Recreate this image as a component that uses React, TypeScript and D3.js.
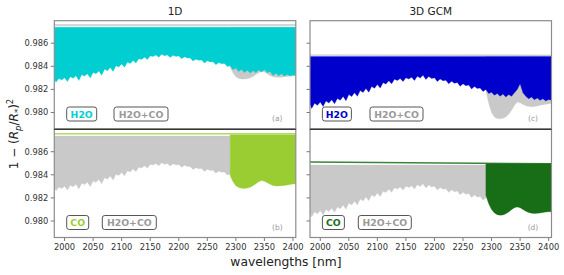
import React from "react";
import * as d3 from "d3";

// wavelength grids [nm]
const wlForest = [
  1982, 1985, 1990, 1995, 2000, 2005, 2010, 2015, 2020, 2025, 2030, 2035, 2040,
  2045, 2050, 2055, 2060, 2065, 2070, 2075, 2080, 2085, 2090, 2095, 2100, 2105,
  2110, 2115, 2120, 2125, 2130, 2135, 2140, 2145, 2150, 2155, 2160, 2165, 2170,
  2175, 2180, 2185, 2190, 2195, 2200, 2205, 2210, 2215, 2220, 2225, 2230, 2235,
  2240, 2245, 2250, 2255, 2260, 2265, 2270, 2275, 2280, 2285, 2290,
];
const wlBand = [
  2290, 2295, 2300, 2305, 2310, 2315, 2320, 2325, 2330, 2335, 2340, 2345, 2350,
  2355, 2360, 2365, 2370, 2375, 2380, 2385, 2390, 2395, 2400, 2405,
];
const wlEdges = [1982, 2405];

// lower envelope of the H2O line forest (1D model)
const forest1D = [
  0.9829, 0.98262, 0.98295, 0.98282, 0.983, 0.98268, 0.9831, 0.98296, 0.98318,
  0.98278, 0.98326, 0.98315, 0.98336, 0.98298, 0.98346, 0.98335, 0.9836,
  0.98322, 0.98375, 0.98362, 0.9839, 0.98356, 0.98405, 0.98394, 0.9842, 0.98392,
  0.98435, 0.98425, 0.9845, 0.98428, 0.98466, 0.9846, 0.98478, 0.98458,
  0.9849, 0.98485, 0.98497, 0.98478, 0.98505, 0.98492, 0.98498, 0.98476,
  0.98495, 0.98486, 0.9849, 0.98466, 0.98482, 0.98472, 0.98472, 0.98446,
  0.98462, 0.98452, 0.98455, 0.98428, 0.98448, 0.98438, 0.9844, 0.98414,
  0.98432, 0.98422, 0.98425, 0.98398, 0.98405,
];
// lower envelope of the H2O line forest (3D GCM)
const forest3D = [
  0.9807, 0.98035, 0.9808, 0.98062, 0.9809, 0.98052, 0.981, 0.98082, 0.9811,
  0.98075, 0.98122, 0.98106, 0.98138, 0.98102, 0.98155, 0.98138, 0.98172,
  0.9814, 0.9819, 0.98174, 0.98208, 0.98176, 0.98225, 0.9821, 0.98242,
  0.98212, 0.98258, 0.98246, 0.98275, 0.98248, 0.98288, 0.98276, 0.98295,
  0.98268, 0.983, 0.9829, 0.98305, 0.98278, 0.98314, 0.98298, 0.98322, 0.98286,
  0.98312, 0.98294, 0.983, 0.98268, 0.9829, 0.98274, 0.9828, 0.98248, 0.9827,
  0.98254, 0.9826, 0.98228, 0.98248, 0.98232, 0.98238, 0.98204, 0.98225,
  0.98208, 0.98212, 0.98182, 0.982,
];

// CO band region (2290-2405 nm)
const h2oBand1D = [
  0.98405, 0.9837, 0.98385, 0.98355, 0.98372, 0.98345, 0.98365, 0.98342,
  0.98362, 0.98345, 0.98368, 0.9835, 0.98372, 0.98345, 0.98355, 0.9832,
  0.9834, 0.98318, 0.98335, 0.98315, 0.9833, 0.98315, 0.98325, 0.9832,
];
const coBand1D = [
  0.98395, 0.9834, 0.98305, 0.9829, 0.98284, 0.98282, 0.98285, 0.98292,
  0.98305, 0.98322, 0.9834, 0.9835, 0.98345, 0.98332, 0.98318, 0.98308,
  0.98304, 0.98303, 0.98305, 0.98308, 0.98312, 0.98316, 0.9832, 0.98322,
];
const h2ocoBand1D = [
  0.98395, 0.98345, 0.9831, 0.98295, 0.9829, 0.98289, 0.98292, 0.983,
  0.98312, 0.98328, 0.98345, 0.98355, 0.9835, 0.98336, 0.9832, 0.9831,
  0.98306, 0.98305, 0.98306, 0.98309, 0.98312, 0.98315, 0.98318, 0.9832,
];
const h2oBand3D = [
  0.98195, 0.98165, 0.98175, 0.9815, 0.98165, 0.9814, 0.9816, 0.98135,
  0.98155, 0.9814, 0.9817, 0.982, 0.9825, 0.9817, 0.9814, 0.9812, 0.98135,
  0.9811, 0.98125, 0.98105, 0.9812, 0.981, 0.98112, 0.98105,
];
const coBand3D = [
  0.98221, 0.9815, 0.981, 0.9807, 0.98055, 0.9805, 0.98052, 0.98062, 0.98078,
  0.98098, 0.98115, 0.98122, 0.98115, 0.981, 0.98085, 0.98074, 0.98068,
  0.98065, 0.98066, 0.9807, 0.98074, 0.98078, 0.9808, 0.9808,
];
const h2ocoBand3D = [
  0.9819, 0.9808, 0.98, 0.9796, 0.97947, 0.97945, 0.9795, 0.97962, 0.97985,
  0.9802, 0.9806, 0.9809, 0.98085, 0.9807, 0.98058, 0.98052, 0.9805, 0.98052,
  0.98056, 0.98062, 0.98068, 0.98072, 0.98075, 0.98078,
];

// continuum levels
const top1D = [0.98738, 0.98736, 0.98746]; // H2O, H2O+CO, CO band
const line1D = [0.98758, 0.98756]; // gray line (a), CO line (b)
const top3D = [0.98484, 0.98484, 0.98496];
const grayLine3D = [0.98497, 0.98495];
const coLine3D = [0.98511, 0.98495];

const yTicks = [0.98, 0.982, 0.984, 0.986];
const xTicks = [2000, 2050, 2100, 2150, 2200, 2250, 2300, 2350, 2400];
const titles = ["1D", "3D GCM"];

const GRAY = "#c9c9c9";
const CYAN = "#00ced1";
const BLUE = "#0000cd";
const LGREEN = "#9acd32";
const DGREEN = "#176e17";

const W = 564;
const H = 275;
const colX = [54.3, 310];
const rowY = [20.7, 129.2];
const PW = 241.5;
const PH = 108.3;
const FONT = "DejaVu Sans, sans-serif";

const x = d3.scaleLinear().domain([1982, 2405]).range([0, PW]);
const y = d3.scaleLinear().domain([0.97857, 0.98795]).range([PH, 0]);

const areaPath = (wl, lower, top) =>
  d3
    .area<number>()
    .x((_, i) => x(wl[i]))
    .y0(() => y(top))
    .y1((d) => y(d))(lower);

const linePath = (wl, vals) =>
  d3
    .line<number>()
    .x((_, i) => x(wl[i]))
    .y((d) => y(d))(vals);

const join = (a, b) => a.concat(b.slice(1));

const panels = [
  {
    col: 0,
    row: 0,
    letter: "(a)",
    legend: [
      { label: "H2O", color: CYAN, dx: 12.4, w: 30 },
      { label: "H2O+CO", color: "#999", dx: 59.7, w: 54 },
    ],
    layers: [
      { kind: "line", wl: wlEdges, vals: [line1D[0], line1D[0]], color: GRAY, width: 1.5, op: 1 },
      { kind: "area", wl: wlBand, lower: h2ocoBand1D, top: top1D[1], color: GRAY },
      { kind: "area", wl: join(wlForest, wlBand), lower: join(forest1D, h2oBand1D), top: top1D[0], color: CYAN },
    ],
  },
  {
    col: 0,
    row: 1,
    letter: "(b)",
    legend: [
      { label: "CO", color: LGREEN, dx: 12.4, w: 22 },
      { label: "H2O+CO", color: "#999", dx: 48, w: 54 },
    ],
    layers: [
      { kind: "area", wl: wlForest, lower: forest1D, top: top1D[1], color: GRAY },
      { kind: "area", wl: wlBand, lower: coBand1D, top: top1D[2], color: LGREEN },
      { kind: "line", wl: wlEdges, vals: [line1D[1], line1D[1]], color: LGREEN, width: 1.6, op: 0.75 },
    ],
  },
  {
    col: 1,
    row: 0,
    letter: "(c)",
    legend: [
      { label: "H2O", color: BLUE, dx: 12.4, w: 29 },
      { label: "H2O+CO", color: "#999", dx: 60, w: 53 },
    ],
    layers: [
      { kind: "line", wl: wlEdges, vals: grayLine3D, color: GRAY, width: 1.4, op: 1 },
      { kind: "area", wl: wlBand, lower: h2ocoBand3D, top: top3D[1], color: GRAY },
      { kind: "area", wl: join(wlForest, wlBand), lower: join(forest3D, h2oBand3D), top: top3D[0], color: BLUE },
    ],
  },
  {
    col: 1,
    row: 1,
    letter: "(d)",
    legend: [
      { label: "CO", color: DGREEN, dx: 12.4, w: 22 },
      { label: "H2O+CO", color: "#999", dx: 48.3, w: 53 },
    ],
    layers: [
      { kind: "area", wl: wlForest, lower: forest3D, top: top3D[1], color: GRAY },
      { kind: "area", wl: wlBand, lower: coBand3D, top: top3D[2], color: DGREEN },
      { kind: "line", wl: wlEdges, vals: coLine3D, color: DGREEN, width: 1.6, op: 0.85 },
    ],
  },
];

const Panel = ({ p }) => {
  const tx = colX[p.col];
  const ty = rowY[p.row];
  const clipId = "clip-" + p.col + p.row;
  return (
    <g transform={`translate(${tx},${ty})`}>
      <clipPath id={clipId}>
        <rect width={PW} height={PH} />
      </clipPath>
      <g clipPath={`url(#${clipId})`}>
        {p.layers.map((l, i) =>
          l.kind === "area" ? (
            <path key={i} d={areaPath(l.wl, l.lower, l.top)} fill={l.color} stroke={l.color} strokeWidth={0.3} />
          ) : (
            <path key={i} d={linePath(l.wl, l.vals)} fill="none" stroke={l.color} strokeWidth={l.width} opacity={l.op} />
          )
        )}
      </g>
      {p.legend.map((e, i) => (
        <g key={i} transform={`translate(${e.dx},86.3)`}>
          <rect width={e.w} height={14} rx={2.5} fill="white" stroke="#555" strokeWidth={1} />
          <text
            x={e.w / 2}
            y={10.8}
            textAnchor="middle"
            fontFamily={FONT}
            fontWeight="bold"
            fontSize={9.3}
            fill={e.color}
          >
            {e.label}
          </text>
        </g>
      ))}
      <text x={PW - 18.5} y={PH - 7.5} textAnchor="middle" fontFamily={FONT} fontSize={7.5} fill="#999">
        {p.letter}
      </text>
      {/* y ticks */}
      {yTicks.map((t) => (
        <g key={t} transform={`translate(0,${y(t)})`}>
          <line x1={-3.5} x2={0} stroke="#555" strokeWidth={0.8} />
          {p.col === 0 && (
            <text x={-6} y={3} textAnchor="end" fontFamily={FONT} fontSize={8.3} fill="#333">
              {d3.format(".3f")(t)}
            </text>
          )}
        </g>
      ))}
      {p.row === 1 &&
        xTicks.map((t) => (
          <g key={t} transform={`translate(${x(t)},${PH})`}>
            <line y1={0} y2={3.5} stroke="#555" strokeWidth={0.8} />
            <text y={12.3} textAnchor="middle" fontFamily={FONT} fontSize={8.3} fill="#333">
              {t}
            </text>
          </g>
        ))}
      <rect width={PW} height={PH} fill="none" stroke="#8c8c8c" strokeWidth={1.2} />
    </g>
  );
};

export default function App() {
  return (
    <div style={{ position: "absolute", left: 0, top: 0 }}>
      <svg width={W} height={H} style={{ display: "block", background: "white" }}>
        {panels.map((p, i) => (
          <Panel key={i} p={p} />
        ))}
        {/* shared boundary between rows */}
        {colX.map((cx) => (
          <line key={cx} x1={cx} x2={cx + PW} y1={rowY[1]} y2={rowY[1]} stroke="#1a1a1a" strokeWidth={1.1} />
        ))}
        {titles.map((t, i) => (
          <text key={t} x={colX[i] + PW / 2} y={15} textAnchor="middle" fontFamily={FONT} fontSize={10.5} fill="#222">
            {t}
          </text>
        ))}
        <text x={286} y={265.5} textAnchor="middle" fontFamily={FONT} fontSize={12.3} fill="#222">
          wavelengths [nm]
        </text>
        <text
          transform="translate(18,134) rotate(-90)"
          textAnchor="middle"
          fontFamily={FONT}
          fontSize={12}
          fill="#222"
        >
          1 − (<tspan fontStyle="italic">R</tspan>
          <tspan fontSize={8.5} dy={2.5} fontStyle="italic">p</tspan>
          <tspan dy={-2.5}>/</tspan>
          <tspan fontStyle="italic">R</tspan>
          <tspan fontSize={8.5} dy={2.5}>*</tspan>
          <tspan dy={-2.5}>)</tspan>
          <tspan fontSize={8.5} dy={-5}>2</tspan>
        </text>
      </svg>
    </div>
  );
}
